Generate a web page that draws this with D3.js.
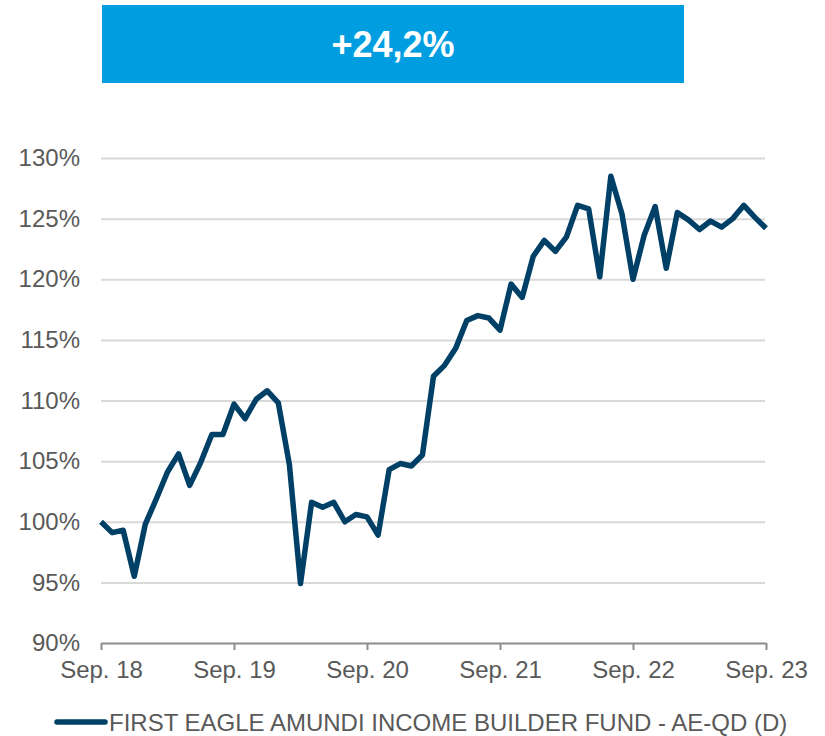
<!DOCTYPE html>
<html>
<head>
<meta charset="utf-8">
<script src="https://cdn.jsdelivr.net/npm/d3@7.9.0/dist/d3.min.js"></script>
<style>
  body { margin: 0; background: #fff; }
  svg { display: block; font-family: "Liberation Sans", Arial, sans-serif; }
</style>
</head>
<body>
<svg id="chart" width="825" height="736"></svg>
<script>
// monthly index values, Sep. 18 = 100
const values = [100.0, 99.1, 99.3, 95.5, 99.8, 101.9, 104.1, 105.6, 103.0, 104.9,
  107.2, 107.2, 109.7, 108.5, 110.1, 110.8, 109.8, 104.7, 94.9, 101.6,
  101.2, 101.6, 100.0, 100.6, 100.4, 98.9, 104.3, 104.8, 104.6, 105.5,
  112.0, 112.9, 114.3, 116.6, 117.0, 116.8, 115.8, 119.6, 118.5, 121.9,
  123.2, 122.3, 123.5, 126.1, 125.8, 120.2, 128.5, 125.4, 120.0, 123.6,
  126.0, 120.9, 125.5, 124.9, 124.1, 124.8, 124.3, 125.0, 126.1, 125.1, 124.2];
const xTickLabels = ['Sep. 18', 'Sep. 19', 'Sep. 20', 'Sep. 21', 'Sep. 22', 'Sep. 23'];
const yTicks = [90, 95, 100, 105, 110, 115, 120, 125, 130];
const seriesName = 'FIRST EAGLE AMUNDI INCOME BUILDER FUND - AE-QD (D)';
const performance = '+24,2%';

const svg = d3.select('#chart');
const x = d3.scaleLinear().domain([0, values.length - 1]).range([101, 766]);
const y = d3.scaleLinear().domain([90, 130]).range([643, 158]);

// performance banner
svg.append('rect')
  .attr('x', 102).attr('y', 5).attr('width', 582).attr('height', 78)
  .attr('fill', '#009ee0');
svg.append('text')
  .attr('x', 393).attr('y', 44)
  .attr('text-anchor', 'middle').attr('dominant-baseline', 'central')
  .attr('fill', '#fff').attr('font-weight', 'bold').attr('font-size', 36)
  .text(performance);

// gridlines + y labels
const yAxis = d3.axisLeft(y).tickValues(yTicks)
  .tickSize(-(765 - 101)).tickFormat(d => d + '%').tickPadding(21);
const gy = svg.append('g').attr('transform', 'translate(101,0)').call(yAxis);
gy.select('.domain').remove();
gy.selectAll('.tick line').attr('stroke', '#d9d9d9').attr('stroke-width', 2);
gy.selectAll('.tick text').attr('fill', '#595959').attr('font-size', 24)
  .attr('font-family', '"Liberation Sans", Arial, sans-serif');
gy.selectAll('.tick').filter(d => d === 90).select('line').remove();

// x axis
const xAxis = d3.axisBottom(x).tickValues(d3.range(0, values.length, 12))
  .tickFormat((d, i) => xTickLabels[i]).tickSize(7).tickSizeOuter(0).tickPadding(11);
const gx = svg.append('g').attr('transform', 'translate(0,643)').call(xAxis);
gx.select('.domain').attr('stroke', '#8c8c8c').attr('stroke-width', 2);
gx.selectAll('.tick line').attr('stroke', '#8c8c8c').attr('stroke-width', 2);
gx.selectAll('.tick text').attr('fill', '#595959').attr('font-size', 24)
  .attr('font-family', '"Liberation Sans", Arial, sans-serif');

// fund line
const line = d3.line().x((d, i) => x(i)).y(d => y(d));
svg.append('path')
  .datum(values)
  .attr('d', line)
  .attr('fill', 'none')
  .attr('stroke', '#003f66')
  .attr('stroke-width', 5.5)
  .attr('stroke-linejoin', 'round');

// legend
svg.append('line')
  .attr('x1', 57).attr('x2', 105).attr('y1', 722).attr('y2', 722)
  .attr('stroke', '#003f66').attr('stroke-width', 5.5).attr('stroke-linecap', 'round');
svg.append('text')
  .attr('x', 109).attr('y', 722).attr('dominant-baseline', 'central')
  .attr('fill', '#595959').attr('font-size', 24)
  .text(seriesName);
</script>
</body>
</html>
